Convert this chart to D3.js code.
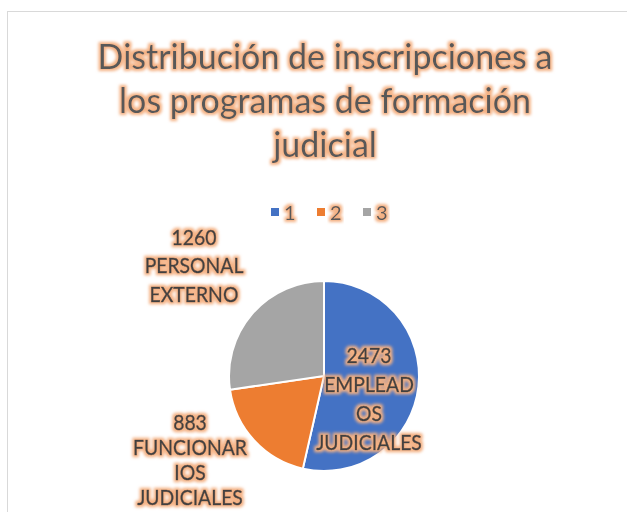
<!DOCTYPE html>
<html><head><meta charset="utf-8">
<script src="https://cdn.jsdelivr.net/npm/d3@7"></script>
<style>body{margin:0;background:#fff}svg{display:block}</style>
</head><body>
<svg id="c" width="627" height="512"></svg>
<script>
const categories = ["1", "2", "3"];
const values = [2473, 883, 1260];
const labelLines = [["2473", "EMPLEAD", "OS", "JUDICIALES"], ["883", "FUNCIONAR", "IOS", "JUDICIALES"], ["1260", "PERSONAL", "EXTERNO"]];
const titleLines = ["Distribución de inscripciones a", "los programas de formación", "judicial"];
const colors = ["#4472C4", "#ED7D31", "#A5A5A5"];

const svg = d3.select("#c");
const font = "Lato, 'Open Sans', sans-serif";
const defs = svg.append("defs");
const f = defs.append("filter").attr("id", "glow").attr("x", "-20%").attr("y", "-40%").attr("width", "140%").attr("height", "180%");
f.append("feMorphology").attr("in", "SourceAlpha").attr("operator", "dilate").attr("radius", 1.8).attr("result", "d");
f.append("feGaussianBlur").attr("in", "d").attr("stdDeviation", 1.6).attr("result", "b");
f.append("feFlood").attr("flood-color", "#F4B183").attr("flood-opacity", 1).attr("result", "fc");
f.append("feComposite").attr("in", "fc").attr("in2", "b").attr("operator", "in").attr("result", "g");
const m = f.append("feMerge");
m.append("feMergeNode").attr("in", "g");
m.append("feMergeNode").attr("in", "SourceGraphic");

svg.append("rect").attr("x", 7.5).attr("y", 11.5).attr("width", 700).attr("height", 600)
  .attr("fill", "#fff").attr("stroke", "#D9D9D9").attr("stroke-width", 1);

// Title
svg.append("g").selectAll("text").data(titleLines).join("text")
  .attr("x", 325).attr("y", (d, i) => 69 + i * 44)
  .attr("text-anchor", "middle").attr("font-family", font).attr("font-size", 34)
  .attr("fill", "#595959").attr("filter", "url(#glow)").text(d => d);

// Legend
const lg = svg.append("g").attr("transform", "translate(271,205)");
const li = lg.selectAll("g").data(categories).join("g").attr("transform", (d, i) => `translate(${i * 46},0)`);
li.append("rect").attr("width", 8).attr("height", 8).attr("y", 3).attr("fill", (d, i) => colors[i]);
li.append("text").attr("x", 13).attr("y", 15).attr("font-family", font).attr("font-size", 20)
  .attr("fill", "#595959").attr("filter", "url(#glow)").text(d => d);

// Pie
const cx = 324, cy = 376, r = 95;
const pie = d3.pie().sort(null).value(d => d)(values);
const arc = d3.arc().innerRadius(0).outerRadius(r);
const pg = svg.append("g").attr("transform", `translate(${cx},${cy})`);
pg.selectAll("path").data(pie).join("path").attr("d", arc)
  .attr("fill", (d, i) => colors[i]).attr("stroke", "#fff").attr("stroke-width", 2);

// Labels
const labelPos = [[369, 363, 29], [190, 430, 25], [194, 245, 28.5]];
labelLines.forEach((lines, i) => {
  svg.append("g").attr("transform", `translate(${labelPos[i][0]},0) scale(0.88,1)`)
    .append("text").attr("text-anchor", "middle").attr("font-family", font).attr("font-size", 22)
    .attr("fill", "#404040").attr("stroke", "#404040").attr("stroke-width", 0.5)
    .attr("filter", "url(#glow)")
    .selectAll("tspan").data(lines).join("tspan")
    .attr("x", 0).attr("y", (d, j) => labelPos[i][1] + j * labelPos[i][2]).text(d => d);
});
</script>
</body></html>
